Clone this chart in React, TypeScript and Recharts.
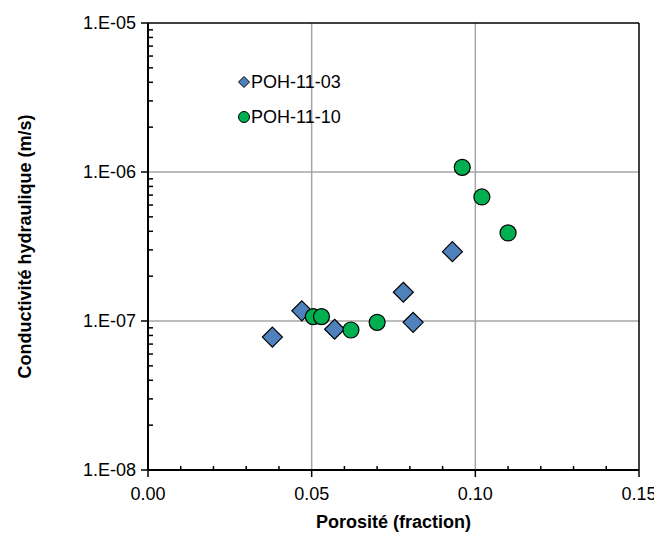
import React from 'react';
import {
  ScatterChart,
  Scatter,
  XAxis,
  YAxis,
  ReferenceLine,
} from 'recharts';

// POH-11-03 (diamonds)
const poh03Porosity = [0.038, 0.047, 0.057, 0.078, 0.081, 0.093];
const poh03Conductivity = [7.8e-8, 1.17e-7, 8.8e-8, 1.56e-7, 9.8e-8, 2.92e-7];

// POH-11-10 (circles)
const poh10Porosity = [0.0505, 0.053, 0.062, 0.07, 0.096, 0.102, 0.11];
const poh10Conductivity = [1.07e-7, 1.07e-7, 8.7e-8, 9.8e-8, 1.075e-6, 6.8e-7, 3.9e-7];

const xMajorTicks = [0, 0.05, 0.1, 0.15];
const xMinorTicks = [0.01, 0.02, 0.03, 0.04, 0.06, 0.07, 0.08, 0.09, 0.11, 0.12, 0.13, 0.14];
const yMajorTicks = [1e-8, 1e-7, 1e-6, 1e-5];
const yMinorTicks = [
  2e-8, 3e-8, 4e-8, 5e-8, 6e-8, 7e-8, 8e-8, 9e-8,
  2e-7, 3e-7, 4e-7, 5e-7, 6e-7, 7e-7, 8e-7, 9e-7,
  2e-6, 3e-6, 4e-6, 5e-6, 6e-6, 7e-6, 8e-6, 9e-6,
];

const BLUE = '#4f81bd';
const GREEN = '#00b050';
const GRID = '#a6a6a6';
const FONT = '"Liberation Sans", Arial, sans-serif';

const poh03 = poh03Porosity.map((x, i) => ({ x, y: poh03Conductivity[i] }));
const poh10 = poh10Porosity.map((x, i) => ({ x, y: poh10Conductivity[i] }));

const isMajor = (list: number[], v: number) =>
  list.some((t) => Math.abs(t - v) / t < 1e-6 || Math.abs(t - v) < 1e-12);

function sciLabel(v: number) {
  const exp = Math.round(Math.log10(v));
  return `1.E-${String(-exp).padStart(2, '0')}`;
}

function XTick(props: any) {
  const { x, y, payload } = props;
  if (isMajor(xMajorTicks, payload.value)) {
    return (
      <g>
        <line x1={x} x2={x} y1={y} y2={y + 7} stroke="#000" strokeWidth={1.5} />
        <text x={x} y={y + 30} textAnchor="middle" fontSize={18} fontFamily={FONT} fill="#000">
          {payload.value.toFixed(2)}
        </text>
      </g>
    );
  }
  return <line x1={x} x2={x} y1={y} y2={y - 4} stroke="#000" strokeWidth={1.5} />;
}

function YTick(props: any) {
  const { x, y, payload } = props;
  if (isMajor(yMajorTicks, payload.value)) {
    return (
      <g>
        <line x1={x} x2={x - 7} y1={y} y2={y} stroke="#000" strokeWidth={1.5} />
        <text x={x - 12} y={y + 6} textAnchor="end" fontSize={18} fontFamily={FONT} fill="#000">
          {sciLabel(payload.value)}
        </text>
      </g>
    );
  }
  return <line x1={x} x2={x + 5} y1={y} y2={y} stroke="#000" strokeWidth={1.5} />;
}

const Diamond = (props: any) => {
  const { cx, cy } = props;
  const r = 10;
  return (
    <polygon
      points={`${cx},${cy - r} ${cx + r},${cy} ${cx},${cy + r} ${cx - r},${cy}`}
      fill={BLUE}
      stroke="#000"
      strokeWidth={1.2}
    />
  );
};

const Dot = (props: any) => {
  const { cx, cy } = props;
  return <circle cx={cx} cy={cy} r={8} fill={GREEN} stroke="#000" strokeWidth={1.2} />;
};

function LegendBox() {
  return (
    <svg width={130} height={60} style={{ display: 'block' }}>
      <polygon points="6,3.5 11.5,9 6,14.5 0.5,9" fill={BLUE} stroke="#000" strokeWidth={1} />
      <text x={13} y={15} fontSize={18} fontFamily={FONT} fill="#000">POH-11-03</text>
      <circle cx={6} cy={44} r={5.5} fill={GREEN} stroke="#000" strokeWidth={1} />
      <text x={13} y={50} fontSize={18} fontFamily={FONT} fill="#000">POH-11-10</text>
    </svg>
  );
}

export default function App() {
  return (
    <div style={{ position: 'relative', width: 654, height: 528, overflow: 'hidden', fontFamily: FONT }}>
      <ScatterChart width={654} height={528} margin={{ top: 15, right: 23, bottom: 26, left: 60 }}>
        <XAxis
          type="number"
          dataKey="x"
          domain={[0, 0.15]}
          ticks={[...xMajorTicks, ...xMinorTicks].sort((a, b) => a - b)}
          interval={0}
          tickSize={0}
          tickMargin={0}
          tickLine={false}
          tick={<XTick />}
          height={40}
          axisLine={{ stroke: '#000', strokeWidth: 2 }}
          allowDataOverflow
          label={{
            value: 'Porosité (fraction)',
            position: 'insideBottom',
            offset: -18,
            style: { fontSize: 18, fontWeight: 'bold', fill: '#000', fontFamily: FONT },
          }}
        />
        <YAxis
          type="number"
          dataKey="y"
          scale="log"
          domain={[1e-8, 1e-5]}
          ticks={[...yMajorTicks, ...yMinorTicks].sort((a, b) => a - b)}
          interval={0}
          tickSize={0}
          tickMargin={0}
          tickLine={false}
          tick={<YTick />}
          width={80}
          axisLine={{ stroke: '#000', strokeWidth: 2 }}
          allowDataOverflow
          label={{
            value: 'Conductivité hydraulique (m/s)',
            angle: -90,
            position: 'insideLeft',
            offset: -43,
            style: { textAnchor: 'middle', fontSize: 18, fontWeight: 'bold', fill: '#000', fontFamily: FONT },
          }}
        />
        <ReferenceLine y={1e-7} stroke={GRID} strokeWidth={1.5} />
        <ReferenceLine y={1e-6} stroke={GRID} strokeWidth={1.5} />
        <ReferenceLine x={0.05} stroke={GRID} strokeWidth={1.5} />
        <ReferenceLine x={0.1} stroke={GRID} strokeWidth={1.5} />
        <ReferenceLine y={1e-5} stroke="#000" strokeWidth={1.5} />
        <ReferenceLine x={0.15} stroke="#000" strokeWidth={1.5} />
        <Scatter name="POH-11-03" data={poh03} shape={<Diamond />} isAnimationActive={false} />
        <Scatter name="POH-11-10" data={poh10} shape={<Dot />} isAnimationActive={false} />
      </ScatterChart>
      <div style={{ position: 'absolute', left: 230, top: 65 }}>
        <LegendBox />
      </div>
    </div>
  );
}
